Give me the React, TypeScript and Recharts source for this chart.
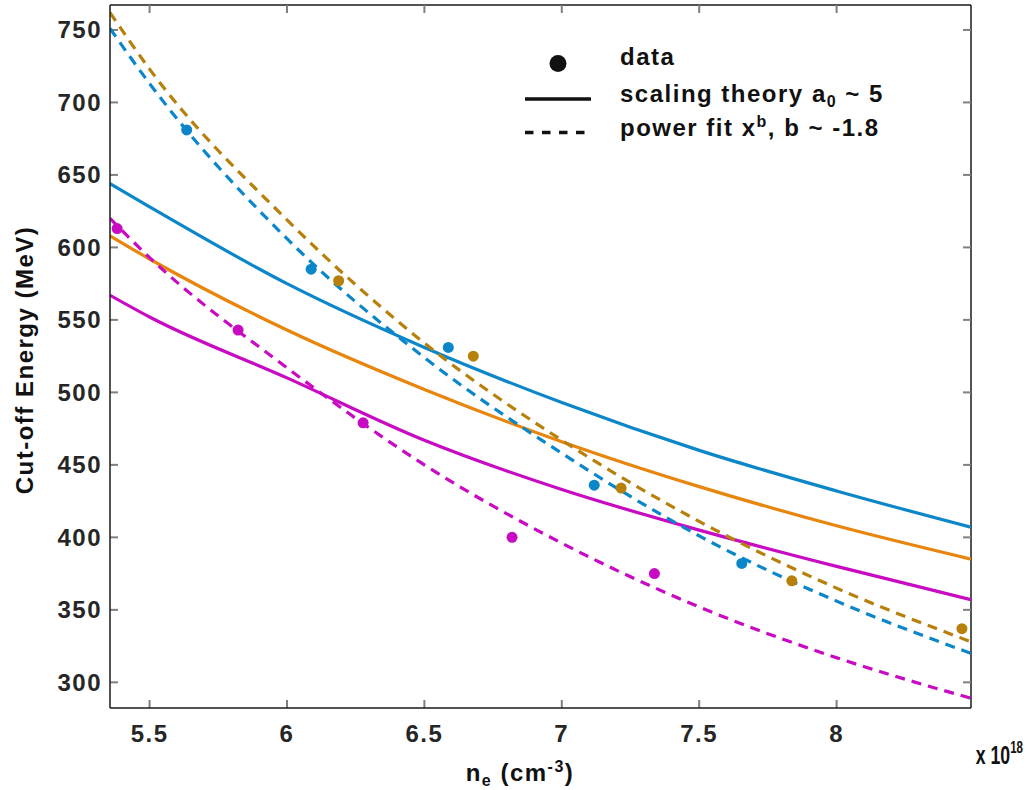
import React from 'react';
import { ComposedChart, Line, Scatter, XAxis, YAxis, ReferenceLine } from 'recharts';

const xMin = 5.356;
const xMax = 8.489;
const yMin = 282.3;
const yMax = 767.2;
const xTicks = [5.5, 6, 6.5, 7, 7.5, 8];
const yTicks = [300, 350, 400, 450, 500, 550, 600, 650, 700, 750];

// measured points
const blueX = [5.635, 6.088, 6.587, 7.118, 7.655];
const blueY = [681, 585, 531, 436, 382];
const goldX = [6.188, 6.678, 7.216, 7.837, 8.456];
const goldY = [577, 525, 434, 370, 337];
const magentaX = [5.382, 5.822, 6.277, 6.819, 7.337];
const magentaY = [613, 543, 479, 400, 375];

// curves (scaling theory = solid, power fit = dashed)
const curveX = [5.356, 5.5, 6, 6.5, 7, 7.5, 8, 8.489];
const blueTheory = [644, 628, 575, 531, 493, 460, 432, 407];
const orangeTheory = [608, 592, 543, 502, 466, 435, 408, 385];
const magentaTheory = [567, 552, 510, 467, 433, 405, 380, 357];
const bluePower = [751, 713, 606, 524, 458, 401, 356, 320];
const goldPower = [762, 723, 619, 534, 467, 411, 365, 328];
const magentaPower = [620, 593, 517, 450, 396, 352, 317, 289];

const BLUE = '#0A86C9';
const ORANGE = '#E8850C';
const GOLD = '#B7800C';
const MAGENTA = '#C80AC3';

const FONT = '"Liberation Sans", Arial, sans-serif';

// inward tick length in data units (~8px)
const xTickLen = 0.029;
const yTickLen = 5.5;

const pts = (xs: number[], ys: number[]) => xs.map((x, i) => ({ x, y: ys[i] }));

const tickStyle = {
  fill: '#262626',
  fontSize: 24,
  fontWeight: 'bold',
  fontFamily: FONT,
  letterSpacing: 1.5,
};
const axisLineStyle = { stroke: '#1a1a1a', strokeWidth: 1.5 };

const dot = (color: string) => (p: any) => <circle cx={p.cx} cy={p.cy} r={5.5} fill={color} />;

const textProps = {
  fontFamily: FONT,
  fontWeight: 'bold' as const,
  fontSize: 24,
  letterSpacing: 1.5,
  fill: '#111',
};

export default function App() {
  const solid = [
    { key: 'bt', data: pts(curveX, blueTheory), color: BLUE },
    { key: 'ot', data: pts(curveX, orangeTheory), color: ORANGE },
    { key: 'mt', data: pts(curveX, magentaTheory), color: MAGENTA },
  ];
  const dashed = [
    { key: 'bp', data: pts(curveX, bluePower), color: BLUE },
    { key: 'gp', data: pts(curveX, goldPower), color: GOLD },
    { key: 'mp', data: pts(curveX, magentaPower), color: MAGENTA },
  ];
  const dots = [
    { key: 'bd', data: pts(blueX, blueY), color: BLUE },
    { key: 'gd', data: pts(goldX, goldY), color: GOLD },
    { key: 'md', data: pts(magentaX, magentaY), color: MAGENTA },
  ];

  const tickMarks: { key: string; seg: { x: number; y: number }[] }[] = [];
  xTicks.forEach((t) => {
    tickMarks.push({ key: 'xb' + t, seg: [{ x: t, y: yMin }, { x: t, y: yMin + yTickLen }] });
    tickMarks.push({ key: 'xt' + t, seg: [{ x: t, y: yMax }, { x: t, y: yMax - yTickLen }] });
  });
  yTicks.forEach((t) => {
    tickMarks.push({ key: 'yl' + t, seg: [{ x: xMin, y: t }, { x: xMin + xTickLen, y: t }] });
    tickMarks.push({ key: 'yr' + t, seg: [{ x: xMax, y: t }, { x: xMax - xTickLen, y: t }] });
  });

  return (
    <div style={{ position: 'absolute', left: 0, top: 0, width: 1027, height: 790, background: '#fff' }}>
      <ComposedChart width={1027} height={790} margin={{ top: 5, right: 56, bottom: 0, left: 0 }}>
        <XAxis
          dataKey="x"
          type="number"
          domain={[xMin, xMax]}
          allowDataOverflow
          ticks={xTicks}
          height={82}
          tickSize={0}
          tickMargin={17}
          tick={tickStyle}
          tickLine={false}
          axisLine={axisLineStyle}
        />
        <YAxis
          dataKey="y"
          type="number"
          domain={[yMin, yMax]}
          allowDataOverflow
          ticks={yTicks}
          width={110}
          tickSize={0}
          tickMargin={8}
          tick={tickStyle}
          tickLine={false}
          axisLine={axisLineStyle}
        />
        <ReferenceLine y={yMax} stroke="#1a1a1a" strokeWidth={1.5} />
        <ReferenceLine x={xMax} stroke="#1a1a1a" strokeWidth={1.5} />
        {tickMarks.map((m) => (
          <ReferenceLine key={m.key} segment={m.seg} stroke="#7f7f7f" strokeWidth={2} />
        ))}
        {solid.map((s) => (
          <Line
            key={s.key}
            data={s.data}
            dataKey="y"
            type="monotone"
            stroke={s.color}
            strokeWidth={3.2}
            dot={false}
            activeDot={false}
            isAnimationActive={false}
          />
        ))}
        {dashed.map((s) => (
          <Line
            key={s.key}
            data={s.data}
            dataKey="y"
            type="monotone"
            stroke={s.color}
            strokeWidth={3.2}
            strokeDasharray="10 7"
            dot={false}
            activeDot={false}
            isAnimationActive={false}
          />
        ))}
        {dots.map((s) => (
          <Scatter
            key={s.key}
            data={s.data}
            dataKey="y"
            fill={s.color}
            shape={dot(s.color)}
            isAnimationActive={false}
          />
        ))}
      </ComposedChart>

      <svg
        width={1027}
        height={790}
        style={{ position: 'absolute', left: 0, top: 0, pointerEvents: 'none' }}
      >
        <text {...textProps} transform="translate(33,360) rotate(-90)" textAnchor="middle">
          Cut-off Energy (MeV)
        </text>
        <text {...textProps} x={520} y={781} textAnchor="middle">
          n<tspan fontSize={16} dy={5}>e</tspan>
          <tspan dy={-5}> (cm</tspan>
          <tspan fontSize={16} dy={-9}>-3</tspan>
          <tspan dy={9}>)</tspan>
        </text>
        <text
          {...textProps}
          fontSize={26}
          letterSpacing={0}
          x={0}
          y={0}
          textAnchor="end"
          transform="translate(1023,764) scale(0.68,1)"
        >
          x 10<tspan fontSize={17} dy={-11}>18</tspan>
        </text>

        {/* legend */}
        <circle cx={558} cy={63.5} r={8.5} fill="#111" />
        <text {...textProps} x={620} y={65}>data</text>
        <line x1={525} y1={99} x2={591} y2={99} stroke="#111" strokeWidth={3.5} />
        <text {...textProps} x={620} y={102}>
          scaling theory a<tspan fontSize={16} dy={5}>0</tspan>
          <tspan dy={-5}> ~ 5</tspan>
        </text>
        <line x1={525} y1={132.5} x2={591} y2={132.5} stroke="#111" strokeWidth={3.5} strokeDasharray="8.5 8.5" />
        <text {...textProps} x={620} y={136}>
          power fit x<tspan fontSize={16} dy={-9}>b</tspan>
          <tspan dy={9}>, b ~ -1.8</tspan>
        </text>
      </svg>
    </div>
  );
}
